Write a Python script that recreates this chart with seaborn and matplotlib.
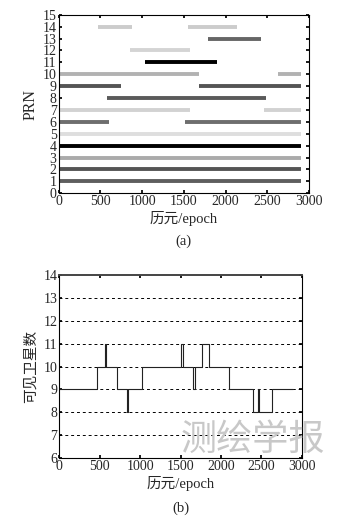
import numpy as np
import pandas as pd
import matplotlib
matplotlib.use('Agg')
import matplotlib.pyplot as plt
import seaborn as sns

# ── data: satellite visibility segments (a) ─────────────────
prn    = [1, 2, 3, 4, 5, 6, 6, 7, 7, 8, 9, 9, 10, 10, 11, 12, 13, 14, 14]
start  = [0, 0, 0, 0, 0, 0, 1512, 0, 2461, 574, 0, 1683, 0, 2621, 1037, 854, 1783, 475, 1552]
end    = [2900, 2900, 2900, 2900, 2900, 606, 2900, 1572, 2900, 2489, 746, 2900, 1680, 2900, 1895, 1572, 2429, 873, 2138]
shade  = {1: '#5e5e5e', 2: '#555555', 3: '#aaaaaa', 4: '#000000', 5: '#dedede',
          6: '#6e6e6e', 7: '#d2d2d2', 8: '#5a5a5a', 9: '#555555', 10: '#b2b2b2',
          11: '#000000', 12: '#d4d4d4', 13: '#666666', 14: '#cccccc'}

# ── data: number of visible satellites (b) ──────────────────
epoch_b = [0, 462, 562, 575, 710, 843, 849, 1028, 1508, 1535, 1650, 1680,
           1772, 1858, 2105, 2402, 2455, 2472, 2629, 2890]
count_b = [9, 10, 11, 10, 9, 8, 9, 10, 11, 10, 9, 10, 11, 10, 9, 8, 9, 8, 9, 9]

sns.set_theme(style='ticks')
plt.rcParams['font.family'] = ['Liberation Serif', 'Noto Sans CJK SC']
plt.rcParams['xtick.direction'] = 'in'
plt.rcParams['ytick.direction'] = 'in'
plt.rcParams['axes.edgecolor'] = 'black'
plt.rcParams['axes.linewidth'] = 0.8

fig = plt.figure(figsize=(3.39, 5.19), dpi=100)
fs = 10
lfs = 10.5

# ── (a) ─────────────────────────────────────────────────────
ax1 = fig.add_axes([0.173, 0.6276, 0.739, 0.344])
seg = pd.DataFrame({'prn': prn, 'start': start, 'end': end})
for _, r in seg.iterrows():
    ax1.hlines(r['prn'], r['start'], r['end'], color=shade[r['prn']], lw=2.8)
ax1.set_xlim(0, 3000)
ax1.set_ylim(0, 15)
ax1.set_xticks(np.arange(0, 3001, 500))
ax1.set_yticks(np.arange(0, 16, 1))
ax1.tick_params(labelsize=fs, length=2.5, pad=1.5, top=True, right=True, color='black')
ax1.set_xlabel('历元/epoch', fontsize=lfs, labelpad=2)
ax1.set_ylabel('PRN', fontsize=lfs + 1, labelpad=3)
fig.text(0.5 * (0.173 + 0.912), 1 - 241 / 519, '(a)', ha='center', va='center', fontsize=lfs)

# ── (b) ─────────────────────────────────────────────────────
ax2 = fig.add_axes([0.175, 0.1169, 0.715, 0.3538])
for y in range(7, 14):
    ax2.axhline(y, color='black', lw=0.7, ls=(0, (3, 3)))
dfb = pd.DataFrame({'epoch': epoch_b, 'count': count_b})
sns.lineplot(data=dfb, x='epoch', y='count', drawstyle='steps-post',
             color='#222222', lw=0.8, ax=ax2)
ax2.spines['top'].set_linewidth(1.4)
ax2.spines['top'].set_color('#444444')
ax2.set_xlim(0, 3000)
ax2.set_ylim(6, 14)
ax2.set_xticks(np.arange(0, 3001, 500))
ax2.set_yticks(np.arange(6, 15, 1))
ax2.tick_params(labelsize=fs, length=2.5, pad=1.5, top=True, right=True, color='black')
ax2.set_xlabel('历元/epoch', fontsize=lfs, labelpad=2)
ax2.set_ylabel('可见卫星数', fontsize=lfs, labelpad=4)
fig.text(0.5 * (0.175 + 0.890), 1 - 508 / 519, '(b)', ha='center', va='center', fontsize=lfs)

# watermark
fig.text(0.745, 0.152, '测绘学报', ha='center', va='center', fontsize=26,
         color='#c8c8c8', family='Noto Sans CJK SC', fontweight='light')

fig.savefig('out.png', dpi=100)
